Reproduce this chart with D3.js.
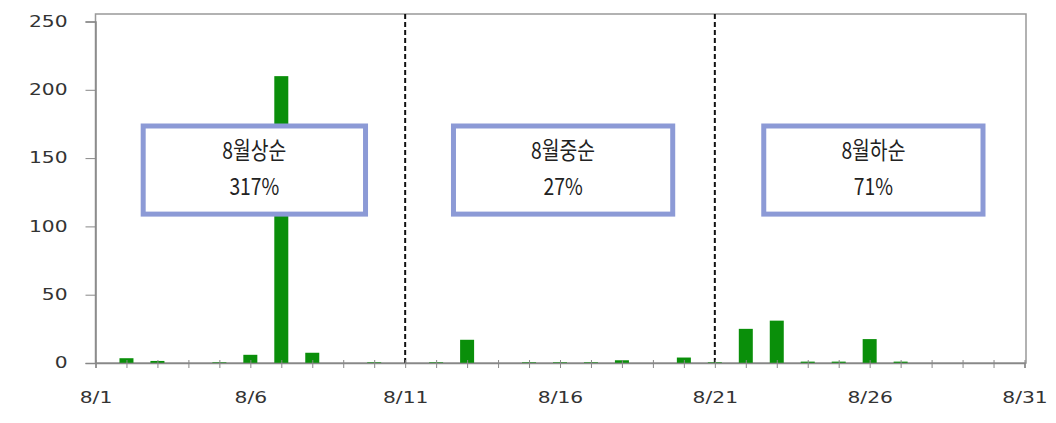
<!DOCTYPE html>
<html>
<head>
<meta charset="utf-8">
<script src="https://cdn.jsdelivr.net/npm/d3@7"></script>
<style>
  body { margin: 0; background: #fff; }
</style>
</head>
<body>
<svg id="chart" width="1056" height="423"></svg>
<script>
// day of August for each bar
var days = [1, 2, 3, 4, 5, 6, 7, 8, 9, 10, 11, 12, 13, 14, 15, 16, 17, 18, 19, 20,
            21, 22, 23, 24, 25, 26, 27, 28, 29, 30, 31];
var values = [0, 3.5, 1.5, 0, 0.5, 6, 210, 7.5, 0, 0.5, 0, 0.5, 17, 0, 0.5, 0.5, 0.5, 2, 0, 4,
              0.5, 25, 31, 1, 1, 17.5, 1, 0, 0, 0, 0];

var xTickDays = [1, 6, 11, 16, 21, 26, 31];
var xTickLabels = ["8/1", "8/6", "8/11", "8/16", "8/21", "8/26", "8/31"];
var yTicks = [0, 50, 100, 150, 200, 250];

// period separators
var dividers = [11, 21];

// annotation boxes (day span, value span)
var boxNames = ["8월상순", "8월중순", "8월하순"];
var boxPcts = ["317%", "27%", "71%"];
var boxStart = [2.54, 12.56, 22.58];
var boxEnd = [9.72, 19.64, 29.66];
var boxTop = 173.5;
var boxBottom = 109;

var svg = d3.select("#chart");
var frameTop = 14;

var x = d3.scaleLinear().domain([1, 31]).range([95.5, 1024.5]);
var y = d3.scaleLinear().domain([0, 250]).range([363, 21.5]);

// frame
svg.append("rect")
    .attr("x", x(1)).attr("y", frameTop)
    .attr("width", 1026 - x(1)).attr("height", y(0) - frameTop)
    .attr("fill", "none").attr("stroke", "#999").attr("stroke-width", 1.5);

// y axis
var yAxis = d3.axisLeft(y).tickValues(yTicks).tickSize(10).tickPadding(0);
var gy = svg.append("g").attr("transform", "translate(" + x(1) + ",0)").call(yAxis);
gy.select(".domain").attr("stroke", "#888").attr("stroke-width", 1.5);
gy.selectAll(".tick line").attr("stroke", "#888");
gy.selectAll(".tick text")
    .attr("x", -28 / 1.35)
    .attr("transform", "scale(1.35,1)")
    .attr("fill", "#333")
    .style("font-family", "DejaVu Sans")
    .style("font-size", "15px");

// dashed dividers
svg.selectAll(".divider")
    .data(dividers)
    .enter()
    .append("line")
    .attr("x1", function (d) { return x(d); })
    .attr("x2", function (d) { return x(d); })
    .attr("y1", frameTop)
    .attr("y2", y(0))
    .attr("stroke", "#111")
    .attr("stroke-width", 2)
    .attr("stroke-dasharray", "5,3");

// bars
var barW = 14;
svg.selectAll(".bar")
    .data(days)
    .enter()
    .append("rect")
    .attr("x", function (d) { return x(d) - barW / 2; })
    .attr("y", function (d, i) { return y(values[i]); })
    .attr("width", barW)
    .attr("height", function (d, i) { return y(0) - y(values[i]); })
    .attr("fill", "#0a8f0a");

// x axis
var xAxis = d3.axisBottom(x).tickValues(days).tickSize(5)
    .tickFormat(function (d) {
        var k = xTickDays.indexOf(d);
        return k >= 0 ? xTickLabels[k] : "";
    });
var gx = svg.append("g").attr("transform", "translate(0," + y(0) + ")").call(xAxis);
gx.select(".domain").attr("stroke", "#888").attr("stroke-width", 1.5);
gx.selectAll(".tick line").attr("stroke", "#888").attr("y1", -3);
gx.selectAll(".tick text")
    .attr("y", 29)
    .attr("transform", "scale(1.35,1)")
    .attr("fill", "#333")
    .style("font-family", "DejaVu Sans")
    .style("font-size", "15px");

// annotation boxes
var boxes = svg.selectAll(".box")
    .data(boxNames)
    .enter()
    .append("g");

boxes.append("rect")
    .attr("x", function (d, i) { return x(boxStart[i]); })
    .attr("y", y(boxTop))
    .attr("width", function (d, i) { return x(boxEnd[i]) - x(boxStart[i]); })
    .attr("height", y(boxBottom) - y(boxTop))
    .attr("fill", "#fff")
    .attr("stroke", "#8c9ad6")
    .attr("stroke-width", 5);

function boxText(sel, dyPx, fn) {
    sel.append("text")
        .attr("transform", function (d, i) {
            var cx = (x(boxStart[i]) + x(boxEnd[i])) / 2;
            return "translate(" + cx + "," + (y(boxTop) + dyPx) + ") scale(0.92,1.12)";
        })
        .attr("dy", "0.35em")
        .attr("text-anchor", "middle")
        .attr("fill", "#222")
        .style("font-family", "Noto Sans CJK KR")
        .style("font-size", "21px")
        .text(fn);
}
boxText(boxes, 25, function (d) { return d; });
boxText(boxes, 61, function (d, i) { return boxPcts[i]; });
</script>
</body>
</html>
